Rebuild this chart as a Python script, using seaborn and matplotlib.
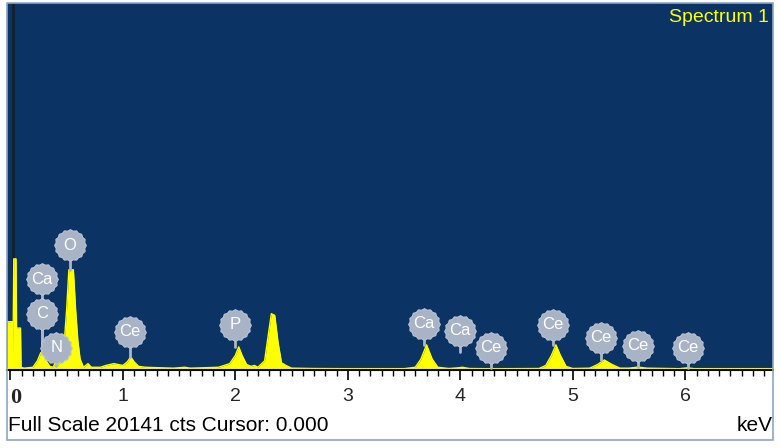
import matplotlib
matplotlib.use('Agg')
import matplotlib.pyplot as plt
import seaborn as sns
import numpy as np
import pandas as pd
from matplotlib.path import Path
from matplotlib.patches import Rectangle
from matplotlib.ticker import MultipleLocator

# Spectrum (keV, counts)
energy = [-0.03, 0.015, 0.022, 0.03, 0.05, 0.055, 0.09, 0.095, 0.12, 0.20, 0.24, 0.27, 0.30,
          0.32, 0.35, 0.38, 0.40, 0.42, 0.46, 0.48, 0.50, 0.52, 0.56, 0.58, 0.60, 0.62,
          0.65, 0.69, 0.72, 0.80, 0.85, 0.92, 0.96, 1.00, 1.04, 1.07, 1.10, 1.14, 1.20,
          1.30, 1.45, 1.55, 1.60, 1.70, 1.85, 1.95, 2.00, 2.03, 2.06, 2.10, 2.14, 2.17,
          2.20, 2.26, 2.29, 2.32, 2.35, 2.38, 2.41, 2.45, 2.50, 2.70, 3.00, 3.50, 3.60,
          3.65, 3.70, 3.75, 3.80, 3.90, 3.98, 4.02, 4.08, 4.25, 4.35, 4.70, 4.76, 4.81,
          4.85, 4.89, 4.94, 5.00, 5.15, 5.22, 5.28, 5.35, 5.42, 5.50, 5.58, 5.66, 5.95,
          6.02, 6.08, 6.80]
counts = [2650, 2650, 300, 6100, 6100, 2300, 2300, 150, 100, 150, 500, 950, 1000,
          500, 200, 150, 400, 250, 600, 1600, 3300, 5500, 5500, 3300, 1600, 600,
          150, 350, 150, 150, 250, 350, 300, 250, 450, 720, 450, 200, 150,
          130, 100, 150, 100, 120, 150, 350, 800, 1270, 800, 300, 200, 250,
          150, 500, 1800, 3090, 3000, 1500, 400, 250, 100, 80, 70, 70, 150,
          600, 1380, 600, 150, 80, 120, 150, 80, 70, 70, 80, 250, 800,
          1380, 800, 200, 80, 100, 300, 550, 300, 100, 100, 160, 100, 70,
          120, 70, 50]

# Element badges
elements = ['O', 'Ca', 'C', 'N', 'Ce', 'P', 'Ca', 'Ca', 'Ce', 'Ce', 'Ce', 'Ce', 'Ce']
label_kev = [0.53, 0.28, 0.28, 0.41, 1.06, 2.00, 3.68, 4.00, 4.27, 4.82, 5.25, 5.58, 6.02]
label_cts = [6845, 4968, 3091, 1214, 2098, 2484, 2539, 2153, 1214, 2484, 1766, 1325, 1214]
stem_end = [5500, 1000, 1000, 200, 720, 1270, 1380, 1000, 100, 1380, 550, 160, 120]

full_scale = 20141
cursor = 0.0
tick_labels = ['0', '1', '2', '3', '4', '5', '6']

df = pd.DataFrame({'keV': energy, 'counts': counts})

sns.set_style('white')
plt.rcParams['font.family'] = ['Liberation Sans', 'DejaVu Sans']

fig = plt.figure(figsize=(7.8, 4.48), dpi=100)
ax = fig.add_axes([7 / 780, 1 - 370 / 448, 766 / 780, 367 / 448])
ax.set_facecolor('#0b3363')

ax.fill_between(df['keV'], 0, df['counts'], color='#ffff00', lw=0, zorder=2)
sns.lineplot(data=df, x='keV', y='counts', ax=ax, color='#ffff00', lw=1, zorder=2,
             estimator=None, sort=False)
ax.axhline(40, color='#ffff00', lw=1.5, zorder=2)
# cursor line sits behind the spectrum
ax.axvline(cursor + 0.022, color='#14202e', lw=2, zorder=1.5)

# bumpy badge marker
n = 32
ang = np.linspace(0, 2 * np.pi, n, endpoint=False)
rad = np.where(np.arange(n) % 2 == 0, 1.0, 0.92)
verts = np.column_stack([rad * np.cos(ang), rad * np.sin(ang)])
badge = Path(np.vstack([verts, verts[:1]]), closed=True)

for el, xk, yc, ye in zip(elements, label_kev, label_cts, stem_end):
    ax.plot([xk, xk], [yc, ye], color='#aeb7c8', lw=2, zorder=4)
for el, xk, yc in zip(elements, label_kev, label_cts):
    ax.scatter([xk], [yc], s=520, marker=badge, color='#a9b3c6', edgecolor='#bcc4d2',
               lw=0.8, zorder=5)
    ax.text(xk, yc, el, color='white', fontsize=12, ha='center', va='center', zorder=6)

ax.set_xlim(-0.03, 6.78)
ax.set_ylim(0, full_scale)
ax.set_yticks([])
ax.xaxis.set_major_locator(MultipleLocator(1))
ax.xaxis.set_minor_locator(MultipleLocator(0.1))
ax.set_xticks(range(len(tick_labels)))
ax.set_xticklabels(tick_labels)
ax.tick_params(axis='x', which='major', direction='out', length=7, width=1.2,
               color='black', labelsize=14, pad=6, bottom=True)
ax.tick_params(axis='x', which='minor', direction='out', length=4, width=1,
               color='black', bottom=True)
lbl0 = ax.get_xticklabels()[0]
lbl0.set_fontfamily('Liberation Serif')
lbl0.set_fontweight('bold')
lbl0.set_fontsize(16)
lbl0.set_horizontalalignment('left')
for s in ['top', 'left', 'right']:
    ax.spines[s].set_visible(False)
ax.spines['bottom'].set_color('black')
ax.spines['bottom'].set_linewidth(1.5)
ax.set_xlabel('')
ax.set_ylabel('')

ax.text(0.995, 0.985, 'Spectrum 1', transform=ax.transAxes, color='#ffff00',
        fontsize=14, ha='right', va='top')

fig.text(8 / 780, 1 - 425 / 448, 'Full Scale 20141 cts Cursor: 0.000', fontsize=15,
         ha='left', va='center', color='black')
fig.text(773 / 780, 1 - 425 / 448, 'keV', fontsize=15, ha='right', va='center',
         color='black')

fig.patches.append(Rectangle((7 / 780, 1 - 440 / 448), 766 / 780, 437 / 448,
                             transform=fig.transFigure, fill=False,
                             edgecolor='#8fa6c6', lw=1.2, zorder=0))

fig.savefig('out.png', dpi=100)
